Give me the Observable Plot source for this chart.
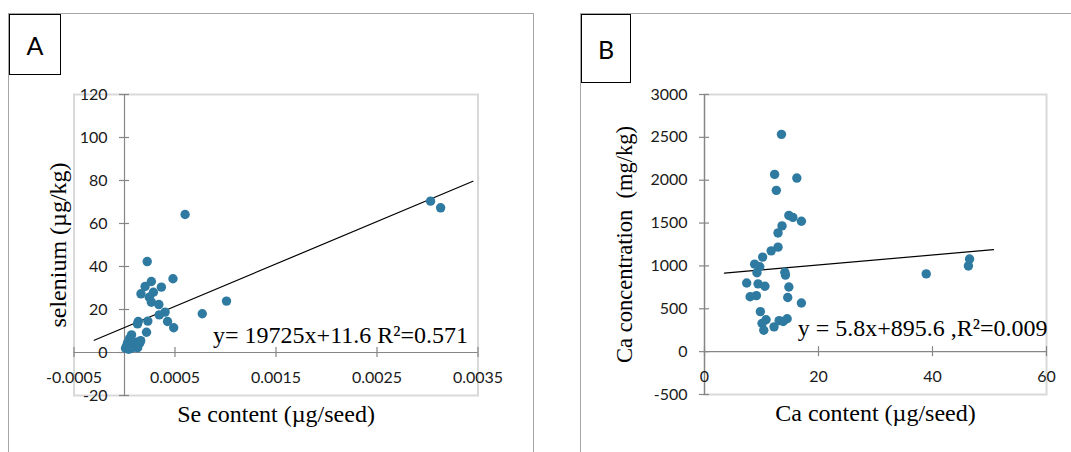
<!DOCTYPE html>
<html><head><meta charset="utf-8">
<script src="https://cdn.jsdelivr.net/npm/d3@7"></script>
<script src="https://cdn.jsdelivr.net/npm/@observablehq/plot@0.6"></script>
<style>
body{margin:0;background:#fff;}
#root{position:relative;width:1071px;height:452px;overflow:hidden;background:#fff;}
.panel{position:absolute;border:1px solid #a6a6a6;box-sizing:border-box;}
.tag{position:absolute;border:1px solid #000;background:#fff;box-sizing:border-box;font-family:Lato,'Liberation Sans',sans-serif;font-size:25px;display:flex;align-items:center;justify-content:center;color:#000;}
.chart{position:absolute;top:0;}
.chart svg{overflow:visible;}
</style></head><body>
<div id="root">
  <div class="panel" style="left:8px;top:13px;width:526px;height:480px;"></div>
  <div class="panel" style="left:580px;top:13px;width:560px;height:480px;"></div>
  <div class="tag" style="left:9px;top:14px;width:52px;height:61px;">A</div>
  <div class="tag" style="left:581px;top:14px;width:50px;height:69px;">B</div>
  <div id="chartA" class="chart" style="left:0px;"></div>
  <div id="chartB" class="chart" style="left:536px;"></div>
</div>
<script>
// ---- Panel A: Se ----
const seContent = [0.00303, 0.00313, 0.00060, 0.000225, 0.00048, 0.000266, 0.000204, 0.000365, 0.000163, 0.000286,
  0.000245, 0.000266, 0.00034, 0.000402, 0.000344, 0.00101, 0.00077, 0.000426, 0.000487, 0.000231,
  0.000136, 0.000129, 0.000218,
  0.00001, 0.00002, 0.00003, 0.00005, 0.00007, 0.00006, 0.00008, 0.0001, 0.00012, 0.00013, 0.00015, 0.00016, 0.00004];
const seConc = [70.4, 67.3, 64.2, 42.3, 34.3, 33.0, 30.7, 30.4, 27.3, 28.0,
  25.7, 23.4, 22.3, 18.8, 17.5, 23.9, 18.0, 14.4, 11.5, 14.6,
  14.4, 13.3, 9.4,
  2.0, 3.0, 4.5, 6.5, 8.2, 1.8, 4.0, 2.5, 4.8, 2.2, 4.3, 5.5, 1.5];
const seTicksX = [-0.0005, 0.0005, 0.0015, 0.0025, 0.0035];
const seTickLabelsX = ["-0.0005", "0.0005", "0.0015", "0.0025", "0.0035"];
const seTicksY = [-20, 0, 20, 40, 60, 80, 100, 120];
const seFit = {slope: 19725, intercept: 11.6, from: -0.0003, to: 0.00345};
const seEquation = "y= 19725x+11.6 R\u00b2=0.571";
const seXTitle = "Se content (\u00b5g/seed)";
const seYTitle = "selenium (\u00b5g/kg)";

// ---- Panel B: Ca ----
const caContent = [13.5, 12.3, 16.2, 12.6, 14.8, 15.5, 17.0, 13.6, 12.9, 12.9,
  11.7, 10.2, 8.8, 9.7, 9.2, 14.1, 14.2, 7.4, 9.4, 10.6,
  14.8, 8.0, 9.1, 14.6, 17.0, 9.8, 10.8, 10.1, 10.4, 12.2,
  13.1, 13.8, 14.5, 38.9, 46.3, 46.5];
const caConc = [2535, 2068, 2025, 1882, 1589, 1566, 1521, 1467, 1385, 1219,
  1176, 1103, 1021, 990, 920, 926, 893, 801, 791, 763,
  754, 641, 653, 632, 568, 467, 372, 330, 250, 289,
  362, 352, 384, 907, 1000, 1081];
const caTicksX = [0, 20, 40, 60];
const caTickLabelsX = ["0", "20", "40", "60"];
const caTicksY = [-500, 0, 500, 1000, 1500, 2000, 2500, 3000];
const caFit = {slope: 5.8, intercept: 895.6, from: 3.5, to: 50.7};
const caEquation = "y = 5.8x+895.6 ,R\u00b2=0.009";
const caXTitle = "Ca content (\u00b5g/seed)";
const caYTitle = "Ca concentration  (mg/kg)";

const DOT = "#2e7aa1";
const AXIS = "#868686";
const TICKFONT = "Lato, 'Liberation Sans', sans-serif";
const SERIF = "'Liberation Serif', 'Times New Roman', serif";

function fitPoints(fit) {
  return [fit.from, fit.to].map(x => ({x, y: fit.slope * x + fit.intercept}));
}

function scatter(o) {
  return Plot.plot({
    width: o.width, height: 452,
    marginLeft: o.ml, marginRight: o.mr, marginTop: 94, marginBottom: o.mb,
    x: {domain: o.xDomain, axis: null},
    y: {domain: o.yDomain, axis: null},
    style: {background: "transparent", overflow: "visible"},
    marks: [
      Plot.frame({stroke: "#d9d9d9", strokeWidth: 2}),
      Plot.ruleY([0], {stroke: AXIS, strokeWidth: 1.2}),
      Plot.ruleX([0], {stroke: AXIS, strokeWidth: 1.2}),
      Plot.ruleX(o.ticksX, {x: d => d, y1: 0, y2: 0, insetTop: -5, insetBottom: -5, stroke: AXIS, strokeWidth: 1.2}),
      Plot.ruleY(o.ticksY, {y: d => d, x1: 0, x2: 0, insetLeft: -5, insetRight: -5, stroke: AXIS, strokeWidth: 1.2}),
      Plot.text(o.ticksX, {x: d => d, text: (d, i) => o.labelsX[i], frameAnchor: "bottom", dy: -18,
        fontFamily: TICKFONT, fontSize: 16, fill: "#1a1a1a", lineAnchor: "middle"}),
      Plot.text(o.ticksY, {x: 0, y: d => d, text: d => String(d), dx: -17, textAnchor: "end",
        fontFamily: TICKFONT, fontSize: 16, fill: "#1a1a1a", lineAnchor: "middle"}),
      Plot.line(fitPoints(o.fit), {x: "x", y: "y", stroke: "#000", strokeWidth: 1.2}),
      Plot.dot(o.xs, {x: d => d, y: (d, i) => o.ys[i], r: 4.7, fill: DOT, stroke: "none"}),
      Plot.text([o.eq], {frameAnchor: "bottom-right", dx: o.eqDx, dy: o.eqDy, textAnchor: "end", lineAnchor: "bottom",
        fontFamily: SERIF, fontSize: 24, fill: "#000"}),
      Plot.text([o.xTitle], {frameAnchor: "bottom", dy: 19, lineAnchor: "middle", textAnchor: "middle",
        fontFamily: SERIF, fontSize: 24, fill: "#000"}),
      Plot.text([o.yTitle], {frameAnchor: "left", dx: o.yTitleDx, rotate: -90, lineAnchor: "middle", textAnchor: "middle",
        fontFamily: SERIF, fontSize: o.yTitleSize, fill: "#000"})
    ]
  });
}

document.getElementById("chartA").append(scatter({
  width: 535, ml: 73.5, mr: 57.5, mb: 57,
  xDomain: [-0.0005, 0.0035], yDomain: [-20, 120],
  ticksX: seTicksX, labelsX: seTickLabelsX, ticksY: seTicksY,
  fit: seFit, xs: seContent, ys: seConc, eq: seEquation, eqDx: -10, eqDy: -53,
  xTitle: seXTitle, yTitle: seYTitle, yTitleDx: -16, yTitleSize: 24
}));

document.getElementById("chartB").append(scatter({
  width: 535, ml: 168, mr: 25, mb: 58,
  xDomain: [0, 60], yDomain: [-500, 3000],
  ticksX: caTicksX, labelsX: caTickLabelsX, ticksY: caTicksY,
  fit: caFit, xs: caContent, ys: caConc, eq: caEquation, eqDx: 1, eqDy: -59,
  xTitle: caXTitle, yTitle: caYTitle, yTitleDx: -80, yTitleSize: 22.5
}));
</script>
</body></html>
